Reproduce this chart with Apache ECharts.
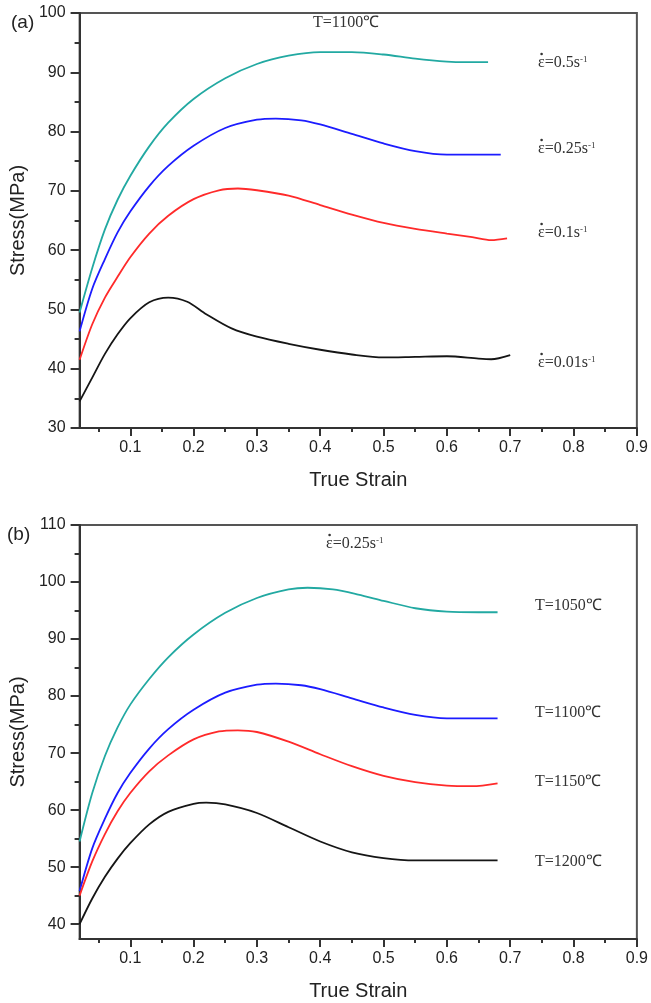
<!DOCTYPE html>
<html>
<head>
<meta charset="utf-8">
<script src="https://cdn.jsdelivr.net/npm/echarts@6/dist/echarts.min.js"></script>
<style>
  html, body { margin: 0; padding: 0; background: #fff; }
  #main { width: 651px; height: 1003px; }
</style>
</head>
<body>
<div id="main"></div>
<script>
var chart = echarts.init(document.getElementById('main'));

/* x tick labels, y tick labels */
var xMajor = [0.1, 0.2, 0.3, 0.4, 0.5, 0.6, 0.7, 0.8, 0.9];
var xMinor = [0.05, 0.15, 0.25, 0.35, 0.45, 0.55, 0.65, 0.75, 0.85];
var yMajorA = [30, 40, 50, 60, 70, 80, 90, 100];
var yMinorA = [35, 45, 55, 65, 75, 85, 95];
var yMajorB = [40, 50, 60, 70, 80, 90, 100, 110];
var yMinorB = [45, 55, 65, 75, 85, 95, 105];

/* (a) T=1100C, different strain rates */
var strainA05 = [0.02, 0.04, 0.06, 0.08, 0.10, 0.13, 0.16, 0.20, 0.25, 0.30, 0.35, 0.40, 0.45, 0.50, 0.55, 0.60, 0.63, 0.665];
var stressA05 = [49.5, 57.0, 63.5, 68.5, 72.5, 77.5, 81.5, 85.5, 89.0, 91.4, 92.8, 93.4, 93.4, 93.0, 92.3, 91.8, 91.7, 91.7];
var strainA025 = [0.02, 0.04, 0.06, 0.08, 0.10, 0.13, 0.16, 0.20, 0.25, 0.30, 0.33, 0.37, 0.40, 0.45, 0.50, 0.55, 0.60, 0.65, 0.685];
var stressA025 = [46.3, 53.5, 58.5, 63.0, 66.5, 70.8, 74.2, 77.6, 80.6, 82.0, 82.2, 81.9, 81.2, 79.6, 78.0, 76.7, 76.1, 76.1, 76.1];
var strainA01 = [0.02, 0.04, 0.06, 0.08, 0.10, 0.13, 0.16, 0.20, 0.24, 0.27, 0.30, 0.35, 0.40, 0.45, 0.50, 0.55, 0.60, 0.64, 0.67, 0.695];
var stressA01 = [41.5, 47.5, 52.0, 55.5, 58.8, 62.8, 65.8, 68.6, 70.1, 70.4, 70.1, 69.2, 67.6, 66.0, 64.6, 63.6, 62.8, 62.2, 61.7, 62.0];
var strainA001 = [0.02, 0.04, 0.06, 0.08, 0.10, 0.13, 0.16, 0.19, 0.22, 0.26, 0.30, 0.35, 0.40, 0.45, 0.50, 0.55, 0.60, 0.65, 0.67, 0.70];
var stressA001 = [34.5, 38.5, 42.5, 45.8, 48.5, 51.2, 52.0, 51.3, 49.2, 46.8, 45.4, 44.2, 43.2, 42.4, 41.9, 42.0, 42.1, 41.7, 41.6, 42.3];

/* (b) strain rate 0.25/s, different temperatures */
var strainB1050 = [0.02, 0.04, 0.06, 0.08, 0.10, 0.13, 0.16, 0.20, 0.25, 0.30, 0.35, 0.38, 0.42, 0.46, 0.50, 0.55, 0.60, 0.65, 0.68];
var stressB1050 = [54.5, 63.0, 69.5, 74.5, 78.5, 83.0, 86.8, 90.8, 94.6, 97.2, 98.7, 99.0, 98.7, 97.8, 96.7, 95.4, 94.8, 94.7, 94.7];
var strainB1100 = [0.02, 0.04, 0.06, 0.08, 0.10, 0.13, 0.16, 0.20, 0.25, 0.30, 0.33, 0.37, 0.40, 0.45, 0.50, 0.55, 0.60, 0.65, 0.68];
var stressB1100 = [45.8, 53.3, 58.5, 63.0, 66.5, 70.8, 74.2, 77.6, 80.6, 82.0, 82.2, 81.9, 81.2, 79.6, 78.0, 76.7, 76.1, 76.1, 76.1];
var strainB1150 = [0.02, 0.04, 0.06, 0.08, 0.10, 0.13, 0.16, 0.20, 0.24, 0.27, 0.30, 0.35, 0.40, 0.45, 0.50, 0.55, 0.60, 0.64, 0.68];
var stressB1150 = [45.0, 51.0, 55.8, 59.8, 63.0, 66.8, 69.6, 72.4, 73.8, 74.0, 73.7, 72.0, 69.8, 67.7, 66.0, 64.9, 64.3, 64.2, 64.7];
var strainB1200 = [0.02, 0.04, 0.06, 0.08, 0.10, 0.13, 0.16, 0.20, 0.22, 0.25, 0.30, 0.35, 0.40, 0.45, 0.50, 0.55, 0.60, 0.68];
var stressB1200 = [40.0, 44.5, 48.3, 51.5, 54.2, 57.5, 59.7, 61.1, 61.3, 61.0, 59.5, 57.0, 54.5, 52.6, 51.6, 51.2, 51.2, 51.2];

var colCyan = '#22a9a2', colBlue = '#1c1cff', colRed = '#ff2a2a', colBlack = '#151515';

function zip(xs, ys) {
    return xs.map(function (x, i) { return [x, ys[i]]; });
}

var sansFont = '"Liberation Sans", Arial, sans-serif';
var serifFont = '"Liberation Serif", "Times New Roman", serif';

function mainX(grid) {
    return {
        type: 'value', gridIndex: grid, position: 'bottom',
        min: 0.02, max: 0.9,
        name: 'True Strain', nameLocation: 'middle', nameGap: 42,
        nameTextStyle: { fontFamily: sansFont, fontSize: 20, color: '#222' },
        axisLine: { show: true, onZero: false, lineStyle: { color: '#333', width: 2 } },
        axisTick: { show: true, inside: false, length: 8, customValues: xMajor, lineStyle: { color: '#333', width: 2 } },
        axisLabel: { show: true, margin: 12, customValues: xMajor, fontFamily: sansFont, fontSize: 16, color: '#222',
            formatter: function (v) { return v.toFixed(1); } },
        splitLine: { show: false }
    };
}
function minorX(grid) {
    return {
        type: 'value', gridIndex: grid, position: 'bottom', offset: 0,
        min: 0.02, max: 0.9,
        axisLine: { show: false },
        axisTick: { show: true, length: 4, customValues: xMinor, lineStyle: { color: '#333', width: 2 } },
        axisLabel: { show: false },
        splitLine: { show: false }
    };
}
function mainY(grid, lo, hi, ticks) {
    return {
        type: 'value', gridIndex: grid, position: 'left',
        min: lo, max: hi,
        name: 'Stress(MPa)', nameLocation: 'middle', nameGap: 42,
        nameTextStyle: { fontFamily: sansFont, fontSize: 20, color: '#222' },
        axisLine: { show: true, onZero: false, lineStyle: { color: '#333', width: 2 } },
        axisTick: { show: true, inside: false, length: 9, customValues: ticks, lineStyle: { color: '#333', width: 2 } },
        axisLabel: { show: true, margin: 14, customValues: ticks, fontFamily: sansFont, fontSize: 16, color: '#222' },
        splitLine: { show: false }
    };
}
function minorY(grid, lo, hi, ticks) {
    return {
        type: 'value', gridIndex: grid, position: 'left', offset: 0,
        min: lo, max: hi,
        axisLine: { show: false },
        axisTick: { show: true, length: 5, customValues: ticks, lineStyle: { color: '#333', width: 2 } },
        axisLabel: { show: false },
        splitLine: { show: false }
    };
}
function curve(xi, yi, xs, ys, color) {
    return {
        type: 'line', xAxisIndex: xi, yAxisIndex: yi,
        data: zip(xs, ys),
        smooth: 0.3, showSymbol: false, symbol: 'none',
        lineStyle: { color: color, width: 1.8 },
        silent: true
    };
}
// plain annotation text
function note(x, y, main) {
    return {
        type: 'text', x: x, y: y, silent: true,
        style: { text: main, fontFamily: serifFont, fontSize: 16, fill: '#333', verticalAlign: 'middle' }
    };
}
// strain-rate text: epsilon with a dot over it and a -1 superscript
function rate(x, y, main) {
    return {
        type: 'group', x: x, y: y, silent: true,
        children: [
            { type: 'text', x: 0, y: 0,
              style: { text: '{m|ε=' + main + 's}{p|-1}', verticalAlign: 'middle', fill: '#333',
                rich: {
                    m: { fontFamily: serifFont, fontSize: 16, fill: '#333' },
                    p: { fontFamily: serifFont, fontSize: 9, fill: '#333', verticalAlign: 'top' }
                } } },
            { type: 'circle', shape: { cx: 3.6, cy: -9, r: 1.3 }, style: { fill: '#333' } }
        ]
    };
}

var option = {
    backgroundColor: '#fff',
    animation: false,
    grid: [
        { left: 77, top: 13, width: 561, height: 415, show: true, borderColor: '#555', borderWidth: 2 },
        { left: 77, top: 525, width: 561, height: 414, show: true, borderColor: '#555', borderWidth: 2 }
    ],
    xAxis: [mainX(0), minorX(0), mainX(1), minorX(1)],
    yAxis: [
        mainY(0, 30, 100, yMajorA), minorY(0, 30, 100, yMinorA),
        mainY(1, 37.4, 110, yMajorB), minorY(1, 37.4, 110, yMinorB)
    ],
    series: [
        curve(0, 0, strainA05, stressA05, colCyan),
        curve(0, 0, strainA025, stressA025, colBlue),
        curve(0, 0, strainA01, stressA01, colRed),
        curve(0, 0, strainA001, stressA001, colBlack),
        curve(2, 2, strainB1050, stressB1050, colCyan),
        curve(2, 2, strainB1100, stressB1100, colBlue),
        curve(2, 2, strainB1150, stressB1150, colRed),
        curve(2, 2, strainB1200, stressB1200, colBlack)
    ],
    graphic: [
        { type: 'text', x: 11, y: 23, silent: true,
          style: { text: '(a)', fontFamily: sansFont, fontSize: 19, fill: '#222', verticalAlign: 'middle' } },
        { type: 'text', x: 7, y: 535, silent: true,
          style: { text: '(b)', fontFamily: sansFont, fontSize: 19, fill: '#222', verticalAlign: 'middle' } },
        note(313, 23, 'T=1100℃'),
        rate(538, 63, '0.5'),
        rate(538, 149, '0.25'),
        rate(538, 233, '0.1'),
        rate(538, 363, '0.01'),
        rate(326, 544, '0.25'),
        note(535, 606, 'T=1050℃'),
        note(535, 713, 'T=1100℃'),
        note(535, 782, 'T=1150℃'),
        note(535, 862, 'T=1200℃')
    ]
};

chart.setOption(option);
</script>
</body>
</html>
